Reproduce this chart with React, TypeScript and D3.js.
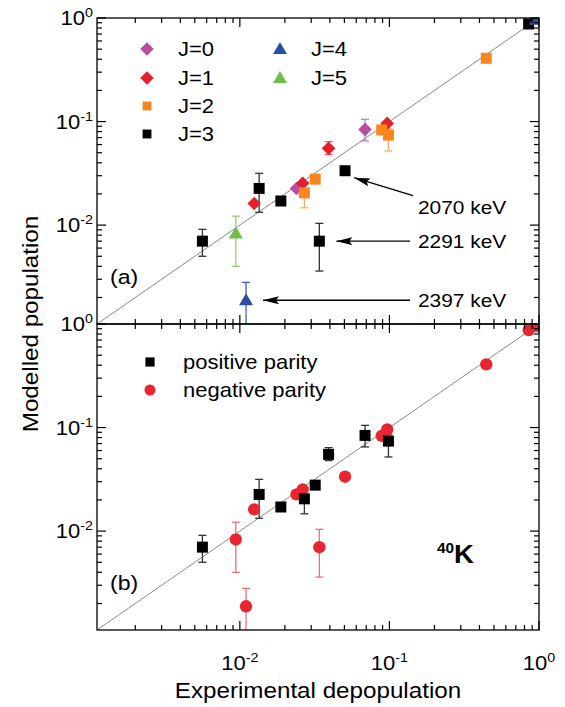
import React from "react";
import * as d3 from "d3";

// ---------- data ----------
const expDepop = [0.00562, 0.0094, 0.011, 0.01247, 0.01346, 0.0188, 0.0239, 0.0263, 0.027, 0.0319, 0.0392, 0.0505, 0.034, 0.0687, 0.0966, 0.0888, 0.0985, 0.444, 0.853, 0.95];
const modelPop = [0.0070, 0.0083, 0.00188, 0.0162, 0.0226, 0.0171, 0.0226, 0.0253, 0.0205, 0.0278, 0.0551, 0.0335, 0.0070, 0.084, 0.096, 0.083, 0.074, 0.408, 0.875, 0.96];
const errLow = [0.0050, 0.0040, 0.0008, null, 0.0133, 0.0155, null, null, 0.0147, 0.0262, 0.048, 0.031, 0.0036, 0.065, null, null, 0.052, null, null, null];
const errHigh = [0.0091, 0.0122, 0.0028, null, 0.0316, 0.0185, null, null, 0.026, 0.0292, 0.064, 0.0355, 0.0104, 0.105, null, null, 0.085, null, null, null];
const spinJ = [3, 5, 4, 1, 3, 3, 0, 1, 2, 2, 1, 3, 3, 0, 1, 2, 2, 2, 3, 4];
const parity = ["+", "-", "-", "-", "+", "+", "-", "-", "+", "+", "+", "-", "-", "+", "-", "-", "+", "-", "-", "-"];

const jLabels = ["J=0", "J=1", "J=2", "J=3", "J=4", "J=5"];
const parityLabels = ["positive parity", "negative parity"];
const decadeTicks = [0.01, 0.1, 1];
const annotations = [
  { idx: 11, text: "2070 keV" },
  { idx: 12, text: "2291 keV" },
  { idx: 2, text: "2397 keV" },
];

// ---------- styles ----------
const jColor = ["#b5509f", "#e3202b", "#f7861f", "#000000", "#2b4ea2", "#6dbe45"];
const jErrColor = ["#c77bb8", "#ea5a5f", "#f7a86a", "#333333", "#3f63b8", "#8fd070"];
const jShape = ["diamond", "diamond", "square", "square", "triangle", "triangle"];
const parColor: Record<string, string> = { "+": "#000000", "-": "#e82530" };
const parErr: Record<string, string> = { "+": "#333333", "-": "#f07070" };
const FONT = "'Liberation Sans', Arial, Helvetica, sans-serif";
const SX = 1.1;

const W = 565, H = 707;
const left = 97, right = 539;
const panelH = 306;
const top1 = 18, top2 = top1 + panelH;
const dmin = Math.pow(10, -2.955);

const x = d3.scaleLog().domain([dmin, 1]).range([left, right]);

function markerPath(shape: string, size: number) {
  if (shape === "diamond" || shape === "square") return d3.symbol(d3.symbolSquare, size)();
  if (shape === "triangle") return d3.symbol(d3.symbolTriangle, size)();
  return d3.symbol(d3.symbolCircle, size)();
}
function Marker({ shape, cx, cy, color, scale = 1 }: any) {
  const size = shape === "diamond" ? 92 : shape === "square" ? 121 : shape === "triangle" ? 84 : 120;
  const rot = shape === "diamond" ? 45 : 0;
  const dy = shape === "triangle" ? 1 : 0;
  return <path d={markerPath(shape, size * scale) || ""} transform={`translate(${cx},${cy + dy}) rotate(${rot})`} fill={color} />;
}

function T({ x, y, size, anchor = "start", rotate = 0, weight = "normal", children }: any) {
  return (
    <text
      transform={`translate(${x},${y}) rotate(${rotate}) scale(${SX},1)`}
      textAnchor={anchor}
      fontFamily={FONT}
      fontSize={size}
      fontWeight={weight}
      fill="#000"
    >
      {children}
    </text>
  );
}

function minorTicks() {
  const t: number[] = [];
  for (let e = -3; e <= 0; e++) {
    for (let m = 1; m <= 9; m++) {
      const v = m * Math.pow(10, e);
      if (v >= dmin && v <= 1) t.push(v);
    }
  }
  return t;
}

const expLabel = (v: number) => (v === 1 ? "0" : String(Math.round(Math.log10(v))));

function Panel({ top, which }: { top: number; which: "a" | "b" }) {
  const y = d3.scaleLog().domain([dmin, 1]).range([top + panelH, top]);
  const ticks = minorTicks();
  const clipId = `clip-${which}`;
  const isMajor = (v: number) => Math.abs(Math.log10(v) - Math.round(Math.log10(v))) < 1e-6;
  const bottom = top + panelH;
  return (
    <g>
      <defs>
        <clipPath id={clipId}>
          <rect x={left} y={top} width={right - left} height={panelH} />
        </clipPath>
      </defs>
      <g clipPath={`url(#${clipId})`}>
        <line x1={x(dmin)} y1={y(dmin)} x2={x(1)} y2={y(1)} stroke="#8a8a8a" strokeWidth={1} />
        {expDepop.map((xv, i) => {
          const lo = errLow[i], hi = errHigh[i];
          if (lo == null || hi == null) return null;
          const c = which === "a" ? jErrColor[spinJ[i]] : parErr[parity[i]];
          const px = x(xv);
          return (
            <g key={"e" + i} stroke={c} strokeWidth={1.3}>
              <line x1={px} x2={px} y1={y(lo)} y2={y(hi)} />
              <line x1={px - 4} x2={px + 4} y1={y(lo)} y2={y(lo)} />
              <line x1={px - 4} x2={px + 4} y1={y(hi)} y2={y(hi)} />
            </g>
          );
        })}
        {expDepop.map((xv, i) => {
          const shape = which === "a" ? jShape[spinJ[i]] : parity[i] === "+" ? "square" : "circle";
          const color = which === "a" ? jColor[spinJ[i]] : parColor[parity[i]];
          return <Marker key={"m" + i} shape={shape} cx={x(xv)} cy={y(modelPop[i])} color={color} />;
        })}
      </g>
      <rect x={left} y={top} width={right - left} height={panelH} fill="none" stroke="#000" strokeWidth={1.3} />
      {ticks.map((v, i) => {
        const len = isMajor(v) ? 9 : 5;
        return (
          <g key={"xt" + i} stroke="#000" strokeWidth={1.2}>
            <line x1={x(v)} x2={x(v)} y1={top} y2={top + len} />
            <line x1={x(v)} x2={x(v)} y1={bottom} y2={bottom - len} />
          </g>
        );
      })}
      {ticks.map((v, i) => {
        const len = isMajor(v) ? 9 : 5;
        return (
          <g key={"yt" + i} stroke="#000" strokeWidth={1.2}>
            <line x1={left} x2={left + len} y1={y(v)} y2={y(v)} />
            <line x1={right} x2={right - len} y1={y(v)} y2={y(v)} />
          </g>
        );
      })}
      {decadeTicks.map((v) => (
        <T key={"yl" + v} x={93} y={y(v) + 7} size={20} anchor="end">
          10<tspan dy={-8} fontSize={13}>{expLabel(v)}</tspan>
        </T>
      ))}
      <T x={110} y={top + 266} size={21}>({which})</T>
    </g>
  );
}

export default function App() {
  const yA = d3.scaleLog().domain([dmin, 1]).range([top1 + panelH, top1]);
  const legendRowY = [49, 78, 106, 134];
  return (
    <svg width={W} height={H} style={{ position: "absolute", left: 0, top: 0, background: "#fff" }}>
      <rect width={W} height={H} fill="#fff" />
      <Panel top={top1} which="a" />
      <Panel top={top2} which="b" />

      {jLabels.map((lab, j) => {
        const col = j < 4 ? 0 : 1;
        const row = j < 4 ? j : j - 4;
        const mx = col === 0 ? 147 : 280;
        const my = legendRowY[row];
        return (
          <g key={"lg" + j}>
            <Marker shape={jShape[j]} cx={mx} cy={my} color={jColor[j]} scale={jShape[j] === "square" ? 0.65 : 1} />
            <T x={mx + 31} y={my + 7} size={20}>{lab}</T>
          </g>
        );
      })}

      {parityLabels.map((lab, k) => {
        const my = [362, 390][k];
        return (
          <g key={"lp" + k}>
            <Marker shape={k === 0 ? "square" : "circle"} cx={150} cy={my} color={k === 0 ? "#000" : "#e82530"} scale={k === 0 ? 0.7 : 0.8} />
            <T x={183} y={my + 7} size={20}>{lab}</T>
          </g>
        );
      })}

      <defs>
        <marker id="arrowhead" viewBox="0 0 16 8" refX={16} refY={4} markerWidth={16} markerHeight={8} markerUnits="userSpaceOnUse" orient="auto">
          <path d="M0,0 L16,4 L0,8 L3,4 Z" fill="#000" />
        </marker>
      </defs>
      {annotations.map((a, k) => {
        const px = x(expDepop[a.idx]);
        const py = yA(modelPop[a.idx]);
        const tip = k === 0 ? [px + 9, py + 7] : [px + 17, py];
        const tail = k === 0 ? [413, py + 25] : [410, py];
        const ty = k === 0 ? py + 43 : py + 7;
        return (
          <g key={"an" + k}>
            <line x1={tail[0]} y1={tail[1]} x2={tip[0]} y2={tip[1]} stroke="#000" strokeWidth={1.3} markerEnd="url(#arrowhead)" />
            <T x={418} y={ty} size={19}>{a.text}</T>
          </g>
        );
      })}

      <T x={437} y={563} size={25} weight="bold">
        <tspan fontSize={14} dy={-10}>40</tspan>
        <tspan dy={10}>K</tspan>
      </T>

      {decadeTicks.map((v) => (
        <T key={"xl" + v} x={x(v)} y={670} size={20} anchor="middle">
          10<tspan dy={-8} fontSize={13}>{expLabel(v)}</tspan>
        </T>
      ))}

      <T x={318} y={698} size={22} anchor="middle">Experimental depopulation</T>
      <T x={38} y={top2} size={22} anchor="middle" rotate={-90}>Modelled population</T>
    </svg>
  );
}
